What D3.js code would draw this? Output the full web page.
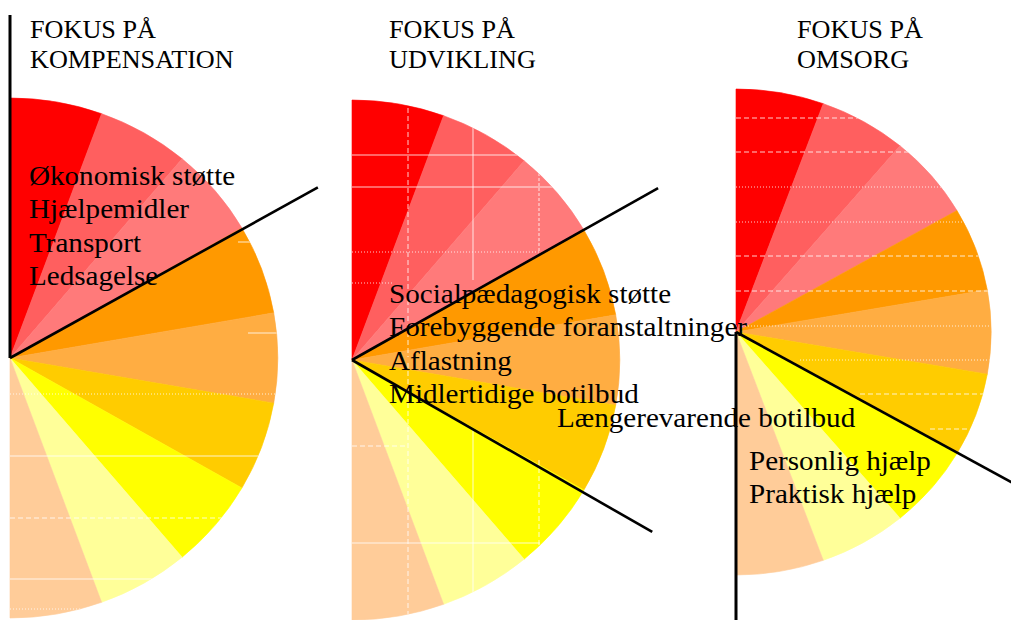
<!DOCTYPE html>
<html><head><meta charset="utf-8">
<script src="https://cdn.jsdelivr.net/npm/d3@7/dist/d3.min.js"></script>
<style>body{margin:0;background:#fff}svg{display:block}</style>
</head><body><svg id="chart" width="1011" height="620"></svg>
<script>
// ---- data ----
const sliceColors = ["#FF0000","#FF5F5F","#FF7A7A","#FF9900","#FFAD42","#FFCC00","#FFFF00","#FFFF99","#FFCC99"];
const kompensationValues = [1,1,1,1,1,1,1,1,1];
const udviklingValues    = [1,1,1,1,1,1,1,1,1];
const omsorgValues       = [1,1,1,1,1,1,1,1,1];
const titleLine1 = ["FOKUS PÅ","FOKUS PÅ","FOKUS PÅ"];
const titleLine2 = ["KOMPENSATION","UDVIKLING","OMSORG"];
const kompensationLabels = ["Økonomisk støtte","Hjælpemidler","Transport","Ledsagelse"];
const udviklingLabels = ["Socialpædagogisk støtte","Forebyggende foranstaltninger","Aflastning","Midlertidige botilbud"];
const udviklingExtraLabels = ["Længerevarende botilbud"];
const omsorgLabels = ["Personlig hjælp","Praktisk hjælp"];

// ---- layout ----
const panels = [
  {values:kompensationValues, cx:10, cy:358, r:260, sx:1.03, titleX:30,
   labels:kompensationLabels, labelX:29, labelY:185,
   rays:[{ang:-29.0,len:352}], vline:[15,358],
   grid:[[238,242,250,242,""],[248,333,280,333,""],[10,394,280,394,"1,2"],[10,456,280,456,""],
         [10,518,280,518,"5,3"],[10,579,280,579,""],[10,609,280,609,"1,2"]]},
  {values:udviklingValues, cx:352, cy:360, r:260, sx:1.03, titleX:389,
   labels:udviklingLabels, labelX:389, labelY:303,
   rays:[{ang:-29.3,len:351},{ang:29.8,len:346}], vline:null,
   grid:[[408,100,408,357,"5,3"],[473,127,473,280,""],[539,173,539,253,"3,2"],
         [352,155,522,155,""],[352,187,573,187,""],[352,252,540,252,"1,2"],[352,283,393,283,"1,2"],
         [408,363,408,620,"5,3"],[473,430,473,597,""],[539,460,539,550,"5,3"],
         [352,446,408,446,"5,3"],[352,543,540,543,""]]},
  {values:omsorgValues, cx:736, cy:332, r:243, sx:1.05, titleX:797,
   labels:omsorgLabels, labelX:749, labelY:470,
   rays:[{ang:28.6,len:340}], vline:[332,620],
   grid:[[736,118,1000,118,"5,3"],[736,152,1000,152,"5,3"],[736,187,1000,187,"1,2"],[736,222,1000,222,"1,2"],
         [736,256,1000,256,"5,3"],[736,291,1000,291,"5,3"],[736,326,1000,326,"1,2"],
         [800,360,995,360,"1,2"],[860,394,995,394,"5,3"],[930,429,995,429,"5,3"]]}
];

const svg = d3.select("#chart");
const pie = d3.pie().sort(null).startAngle(0).endAngle(Math.PI);
const defs = svg.append("defs");

panels.forEach((p, pi) => {
  const arc = d3.arc().innerRadius(0).outerRadius(p.r);
  const tf = `translate(${p.cx},${p.cy}) scale(${p.sx},1)`;
  const g = svg.append("g").attr("transform", tf);
  g.selectAll("path").data(pie(p.values)).join("path")
    .attr("d", arc)
    .attr("fill", (d,i) => sliceColors[i])
    .attr("stroke", (d,i) => sliceColors[i])
    .attr("stroke-width", 0.6);

  const cid = "clip" + pi;
  defs.append("clipPath").attr("id", cid)
    .append("path").attr("transform", tf)
    .attr("d", arc({startAngle:0, endAngle:Math.PI}));
  svg.append("g").attr("clip-path", `url(#${cid})`)
    .selectAll("line").data(p.grid).join("line")
    .attr("x1", d=>d[0]).attr("y1", d=>d[1]).attr("x2", d=>d[2]).attr("y2", d=>d[3])
    .attr("stroke", "#fff").attr("stroke-opacity", 0.8).attr("stroke-width", 1)
    .attr("stroke-dasharray", d=>d[4] || null);
});

panels.forEach(p => {
  p.rays.forEach(r => {
    const a = r.ang * Math.PI / 180;
    svg.append("line")
      .attr("x1", p.cx).attr("y1", p.cy)
      .attr("x2", p.cx + r.len * Math.cos(a)).attr("y2", p.cy + r.len * Math.sin(a))
      .attr("stroke", "#000").attr("stroke-width", 2.6);
  });
  if (p.vline) {
    svg.append("line").attr("x1", p.cx).attr("x2", p.cx)
      .attr("y1", p.vline[0]).attr("y2", p.vline[1])
      .attr("stroke", "#000").attr("stroke-width", 3);
  }
});

function stretchedText(x, y, size, str) {
  svg.append("text")
    .attr("transform", `translate(${x},${y}) scale(1.04,1)`)
    .style("font-family", "Liberation Serif")
    .style("font-size", size + "px")
    .style("fill", "#000")
    .text(str);
}

panels.forEach((p, i) => {
  stretchedText(p.titleX, 38, 25.2, titleLine1[i]);
  stretchedText(p.titleX, 68, 25.2, titleLine2[i]);
});
panels.forEach(p => {
  p.labels.forEach((d, i) => stretchedText(p.labelX, p.labelY + i * 33.4, 28, d));
});
udviklingExtraLabels.forEach(d => stretchedText(557, 427, 28, d));
</script></body></html>
